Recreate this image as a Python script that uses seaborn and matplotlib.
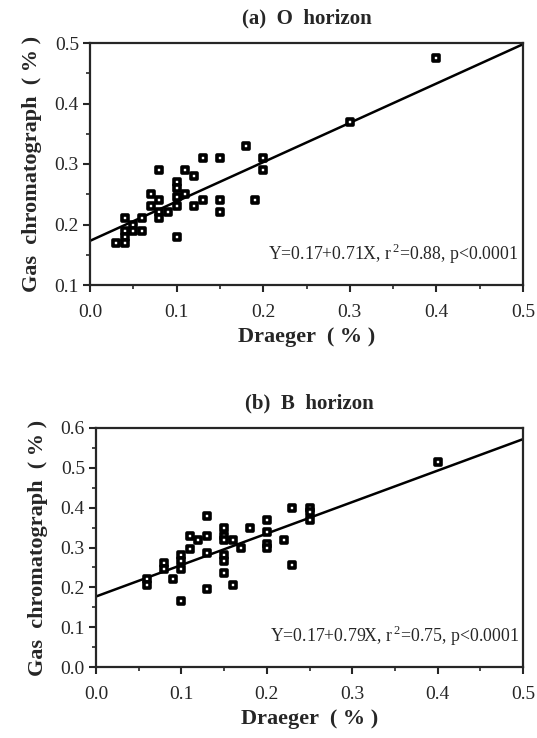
import pandas as pd
import matplotlib.pyplot as plt
import numpy as np
import seaborn as sns

# (a) O horizon
o_draeger = [0.40, 0.30, 0.18, 0.20, 0.20, 0.13, 0.15, 0.08, 0.11, 0.12, 0.10, 0.10,
             0.11, 0.10, 0.07, 0.08, 0.13, 0.12, 0.15, 0.15, 0.19, 0.07, 0.09, 0.08,
             0.08, 0.10, 0.04, 0.06, 0.05, 0.06, 0.04, 0.05, 0.04, 0.03, 0.04, 0.10]
o_gc = [0.475, 0.37, 0.33, 0.31, 0.29, 0.31, 0.31, 0.29, 0.29, 0.28, 0.27, 0.26,
        0.25, 0.245, 0.25, 0.24, 0.24, 0.23, 0.24, 0.22, 0.24, 0.23, 0.22, 0.22,
        0.21, 0.23, 0.21, 0.21, 0.20, 0.19, 0.19, 0.19, 0.18, 0.17, 0.17, 0.18]
o_line = [0.173, 0.65]  # intercept, slope as drawn
o_text = "Y=0.17+0.71X, r$^{\\,2}$=0.88, p<0.0001"

# (b) B horizon
b_draeger = [0.40, 0.23, 0.25, 0.25, 0.25, 0.13, 0.20, 0.20, 0.20, 0.20, 0.18, 0.15,
             0.15, 0.15, 0.16, 0.17, 0.22, 0.11, 0.12, 0.13, 0.11, 0.10, 0.10, 0.10,
             0.13, 0.15, 0.15, 0.15, 0.16, 0.08, 0.08, 0.09, 0.06, 0.06, 0.23, 0.13, 0.10]
b_gc = [0.515, 0.40, 0.40, 0.39, 0.37, 0.38, 0.37, 0.34, 0.31, 0.30, 0.35, 0.35,
        0.33, 0.32, 0.32, 0.30, 0.32, 0.33, 0.32, 0.33, 0.295, 0.28, 0.265, 0.245,
        0.285, 0.28, 0.265, 0.235, 0.205, 0.26, 0.245, 0.22, 0.22, 0.205, 0.255, 0.195, 0.165]
b_line = [0.177, 0.79]
b_text = "Y=0.17+0.79X, r$^{\\,2}$=0.75, p<0.0001"

sns.set_style("ticks")
plt.rcParams['font.family'] = ['Liberation Serif', 'DejaVu Serif']
plt.rcParams['mathtext.fontset'] = 'custom'
plt.rcParams['mathtext.rm'] = 'Liberation Serif'

fig = plt.figure(figsize=(5.37, 7.38), dpi=100)
W, H = 537, 738
ax1 = fig.add_axes([90 / W, 1 - 285 / H, 433 / W, 242 / H])
ax2 = fig.add_axes([96 / W, 1 - 667 / H, 427 / W, 239 / H])

panels = [
    (ax1, o_draeger, o_gc, o_line, o_text, "(a)  O  horizon", (0.1, 0.5)),
    (ax2, b_draeger, b_gc, b_line, b_text, "(b)  B  horizon", (0.0, 0.6)),
]

for ax, xs, ys, line, txt, title, ylim in panels:
    df = pd.DataFrame({"x": xs, "y": ys})
    lx = np.array([0.0, 0.5])
    ldf = pd.DataFrame({"x": lx, "y": line[0] + line[1] * lx})
    sns.lineplot(data=ldf, x="x", y="y", ax=ax, color="black", linewidth=1.8)
    sns.scatterplot(data=df, x="x", y="y", ax=ax, marker="s", s=16,
                    facecolor="white", edgecolor="black", linewidth=2.6, zorder=3)
    ax.set_xlim(0, 0.5)
    ax.set_ylim(*ylim)
    ax.set_xticks(np.arange(0, 0.51, 0.1))
    ax.set_xticks(np.arange(0, 0.51, 0.05), minor=True)
    ax.set_yticks(np.arange(ylim[0], ylim[1] + 0.001, 0.1))
    ax.set_yticks(np.arange(ylim[0], ylim[1] + 0.001, 0.05), minor=True)
    ax.xaxis.set_major_formatter(plt.FormatStrFormatter("%.1f"))
    ax.yaxis.set_major_formatter(plt.FormatStrFormatter("%.1f"))
    ax.tick_params(which="major", length=5, width=1.5, labelsize=14)
    ax.tick_params(axis="x", which="major", pad=9)
    ax.tick_params(axis="y", which="major", pad=3)
    ax.tick_params(which="minor", length=3, width=1.2)
    for sp in ax.spines.values():
        sp.set_linewidth(1.6)
        sp.set_visible(True)
    ax.set_xlabel("Draeger  ( % )", fontsize=16, fontweight="bold", labelpad=4)
    ax.set_ylabel("Gas  chromatograph  ( % )", fontsize=16, fontweight="bold", labelpad=9)
    ax.set_title(title, fontsize=15, fontweight="bold", pad=14)
    ax.text(0.99, 0.13, txt, transform=ax.transAxes, ha="right", va="center", fontsize=12.8)

fig.savefig("out.png", dpi=100)
